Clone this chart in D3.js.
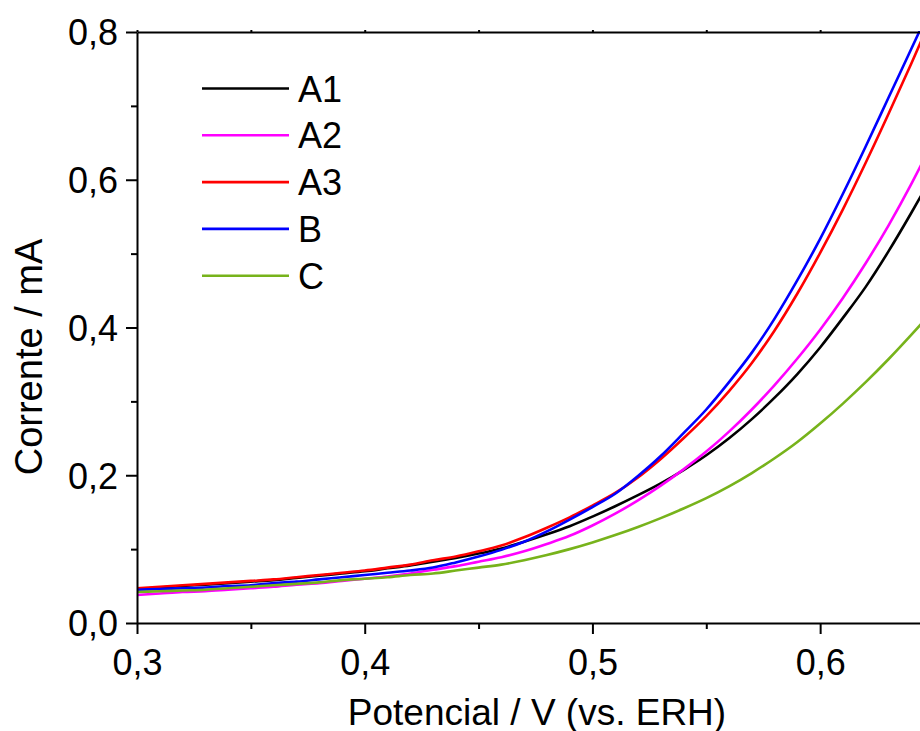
<!DOCTYPE html>
<html>
<head>
<meta charset="utf-8">
<script src="https://cdn.jsdelivr.net/npm/d3@7"></script>
<style>
    body { margin: 0; background: #fff; }
    svg { display: block; font-family: "Liberation Sans", Arial, sans-serif; }
    .axis path, .axis line { stroke: #000; stroke-width: 2px; }
    .axis text { font-size: 36px; fill: #000; }
    .label { font-size: 37px; fill: #000; }
    .legend text { font-size: 36px; fill: #000; }
</style>
</head>
<body>
<svg id="chart" width="920" height="731"></svg>
<script>
// potential (V vs. ERH)
const potencial = [0.30, 0.31, 0.32, 0.33, 0.34, 0.35, 0.36, 0.37, 0.38, 0.39,
    0.40, 0.41, 0.42, 0.43, 0.44, 0.45, 0.46, 0.47, 0.48, 0.49,
    0.50, 0.51, 0.52, 0.53, 0.54, 0.55, 0.56, 0.57, 0.58, 0.59,
    0.60, 0.61, 0.62, 0.63, 0.64, 0.645];

// current (mA) per sample
const a1 = [0.046, 0.048, 0.050, 0.052, 0.054, 0.056, 0.058, 0.061, 0.064, 0.067,
    0.070, 0.074, 0.078, 0.083, 0.088, 0.094, 0.101, 0.110, 0.120, 0.131,
    0.144, 0.158, 0.173, 0.189, 0.207, 0.227, 0.250, 0.276, 0.305, 0.337,
    0.373, 0.413, 0.455, 0.503, 0.555, 0.582];
const a2 = [0.038, 0.040, 0.042, 0.043, 0.045, 0.047, 0.049, 0.052, 0.054, 0.057,
    0.060, 0.063, 0.067, 0.072, 0.077, 0.083, 0.089, 0.097, 0.107, 0.118,
    0.132, 0.148, 0.166, 0.186, 0.208, 0.232, 0.259, 0.289, 0.322, 0.358,
    0.397, 0.440, 0.487, 0.538, 0.594, 0.624];
const a3 = [0.047, 0.049, 0.051, 0.053, 0.055, 0.057, 0.059, 0.062, 0.065, 0.068,
    0.071, 0.075, 0.079, 0.085, 0.090, 0.097, 0.105, 0.116, 0.129, 0.143,
    0.159, 0.176, 0.197, 0.222, 0.250, 0.280, 0.314, 0.352, 0.396, 0.446,
    0.501, 0.560, 0.623, 0.689, 0.757, 0.792];
const b = [0.045, 0.046, 0.047, 0.048, 0.050, 0.051, 0.054, 0.056, 0.059, 0.062,
    0.065, 0.068, 0.071, 0.075, 0.082, 0.090, 0.099, 0.110, 0.124, 0.140,
    0.157, 0.175, 0.199, 0.226, 0.257, 0.289, 0.326, 0.366, 0.412, 0.464,
    0.520, 0.581, 0.645, 0.711, 0.777, 0.810];
const c = [0.042, 0.043, 0.044, 0.045, 0.047, 0.049, 0.051, 0.053, 0.055, 0.058,
    0.060, 0.062, 0.065, 0.067, 0.071, 0.075, 0.079, 0.085, 0.092, 0.100,
    0.109, 0.119, 0.130, 0.142, 0.155, 0.169, 0.185, 0.203, 0.223, 0.245,
    0.270, 0.297, 0.326, 0.357, 0.390, 0.407];

const seriesNames = ['A1', 'A2', 'A3', 'B', 'C'];
const seriesValues = [a1, a2, a3, b, c];
const seriesColors = ['#000000', '#ff00ff', '#ff0000', '#0000ff', '#77b31b'];

const xTicks = [0.3, 0.4, 0.5, 0.6];
const xMinor = [0.35, 0.45, 0.55, 0.65];
const yTicks = [0, 0.2, 0.4, 0.6, 0.8];
const yMinor = [0.1, 0.3, 0.5, 0.7];

const svg = d3.select('#chart');
const margin = {l: 137, t: 32, b: 108};
const plot = {w: 797, h: 731 - margin.t - margin.b};

const fmt = d => d3.format('.1f')(d).replace('.', ',');

//scales
const scaleX = d3.scaleLinear().domain([0.3, 0.65]).range([0, plot.w]);
const scaleY = d3.scaleLinear().domain([0, 0.8]).range([plot.h, 0]);

const g = svg.append('g').attr('transform', `translate(${margin.l}, ${margin.t})`);

g.append('clipPath').attr('id', 'clip')
    .append('rect').attr('x', 0).attr('y', -1).attr('width', plot.w).attr('height', plot.h + 1);

//curves
const line = d3.line()
    .x((d, i) => scaleX(potencial[i]))
    .y(d => scaleY(d))
    .curve(d3.curveMonotoneX);

g.append('g').attr('clip-path', 'url(#clip)')
    .selectAll('path')
    .data(seriesValues)
    .join('path')
    .attr('fill', 'none')
    .attr('stroke', (d, i) => seriesColors[i])
    .attr('stroke-width', 2.6)
    .attr('d', line);

//axes
const axisX = g.append('g').attr('class', 'axis')
    .attr('transform', `translate(0, ${plot.h})`)
    .call(d3.axisBottom(scaleX).tickValues(xTicks).tickFormat(fmt).tickSize(11).tickSizeOuter(0).tickPadding(15));
axisX.selectAll('text').attr('dy', '0.71em');

g.append('g').attr('class', 'axis')
    .attr('transform', `translate(0, ${plot.h})`)
    .call(d3.axisBottom(scaleX).tickValues(xMinor).tickFormat('').tickSize(6).tickSizeOuter(0))
    .select('.domain').remove();

const axisY = g.append('g').attr('class', 'axis')
    .call(d3.axisLeft(scaleY).tickValues(yTicks).tickFormat(fmt).tickSize(11).tickSizeOuter(0).tickPadding(8));
axisY.selectAll('text').attr('dy', '0.36em');

g.append('g').attr('class', 'axis')
    .call(d3.axisLeft(scaleY).tickValues(yMinor).tickFormat('').tickSize(6).tickSizeOuter(0))
    .select('.domain').remove();

g.append('g').attr('class', 'axis')
    .call(d3.axisTop(scaleX).tickValues(xTicks.concat(xMinor)).tickFormat('').tickSize(2).tickSizeOuter(0));

//axis labels
svg.append('text')
    .attr('class', 'label')
    .attr('x', 537)
    .attr('y', 725)
    .style('text-anchor', 'middle')
    .text('Potencial / V (vs. ERH)');

svg.append('text')
    .attr('class', 'label')
    .style('font-size', '38px')
    .attr('transform', 'translate(42, 357) rotate(-90)')
    .style('text-anchor', 'middle')
    .text('Corrente / mA');

//legend
const legend = svg.append('g').attr('class', 'legend')
    .selectAll('g')
    .data(seriesNames)
    .join('g')
    .attr('transform', (d, i) => `translate(202, ${88.5 + i * 46.8})`);

legend.append('line')
    .attr('x1', 0).attr('x2', 87)
    .attr('stroke', (d, i) => seriesColors[i])
    .attr('stroke-width', 2.6);

legend.append('text')
    .attr('x', 96)
    .attr('y', 13)
    .text(d => d);
</script>
</body>
</html>
